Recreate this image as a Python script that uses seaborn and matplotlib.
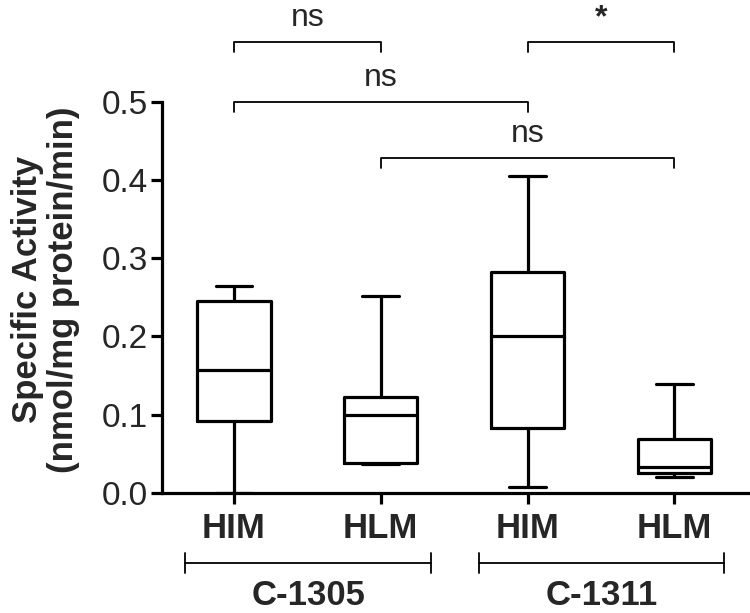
import pandas as pd
import matplotlib
matplotlib.use("Agg")
import matplotlib.pyplot as plt
import seaborn as sns

# data: min, q1, median, q3, max per group
groups = ["HIM", "HLM", "HIM ", "HLM "]
him_1305 = [0.000, 0.092, 0.157, 0.245, 0.265]
hlm_1305 = [0.037, 0.038, 0.100, 0.123, 0.252]
him_1311 = [0.007, 0.083, 0.200, 0.282, 0.405]
hlm_1311 = [0.020, 0.026, 0.033, 0.069, 0.139]
compounds = ["C-1305", "C-1311"]
tick_labels = ["HIM", "HLM", "HIM", "HLM"]
yticks = [0.0, 0.1, 0.2, 0.3, 0.4, 0.5]

# significance: (left group, right group, height, label)
sig_pairs = [(0, 1, 0.577, "ns"), (2, 3, 0.577, "*"),
             (0, 2, 0.500, "ns"), (1, 3, 0.428, "ns")]

df = pd.DataFrame({
    "group": [g for g, v in zip(groups, [him_1305, hlm_1305, him_1311, hlm_1311]) for _ in v],
    "value": him_1305 + hlm_1305 + him_1311 + hlm_1311,
})

sns.set_style("ticks")
plt.rcParams["font.family"] = ["Liberation Sans", "DejaVu Sans"]

fig = plt.figure(figsize=(7.5, 6.13), dpi=100)
ax = fig.add_axes([0.216, 0.196, 0.781, 0.638])

lw = 2.3
sns.boxplot(data=df, x="group", y="value", order=groups, whis=(0, 100),
            width=0.5, fill=False, color="black", linewidth=lw,
            showfliers=False, ax=ax)

ax.set_xlim(-0.49, 3.5)
ax.set_ylim(0, 0.5)
ax.set_yticks(yticks)
ax.set_yticklabels([f"{t:.1f}" for t in yticks], fontsize=24)
ax.set_xticks(range(4))
ax.set_xticklabels(tick_labels, fontsize=25, fontweight="bold")
ax.tick_params(axis="both", length=8, width=lw, color="black", pad=2)
ax.tick_params(axis="x", pad=6)
sns.despine(ax=ax)
for s in ["left", "bottom"]:
    ax.spines[s].set_linewidth(lw)
    ax.spines[s].set_color("black")

ax.set_xlabel("")
ax.set_ylabel("Specific Activity\n(nmol/mg protein/min)", fontsize=25,
              fontweight="bold", linespacing=1.1)
ax.yaxis.set_label_coords(-0.14, 0.52)

# significance brackets
drop = 0.013
for a, b, h, lab in sig_pairs:
    ax.plot([a, a, b, b], [h - drop, h, h, h - drop], color="black", lw=1.3, clip_on=False)
    ax.text((a + b) / 2, h + 0.02, lab, ha="center", va="baseline", fontsize=23,
            fontweight="bold" if lab == "*" else "normal", clip_on=False)

# compound brackets under x axis
trans = ax.get_xaxis_transform()
for i, name in enumerate(compounds):
    x0, x1 = 2 * i - 0.33, 2 * i + 1.34
    yb = -0.18
    ax.plot([x0, x1], [yb, yb], color="black", lw=1.3, transform=trans, clip_on=False)
    for xe in (x0, x1):
        ax.plot([xe, xe], [yb - 0.026, yb + 0.026], color="black", lw=1.3,
                transform=trans, clip_on=False)
    ax.text((x0 + x1) / 2, yb - 0.04, name, ha="center", va="top", fontsize=25,
            fontweight="bold", transform=trans)

fig.savefig("out.png", dpi=100)
